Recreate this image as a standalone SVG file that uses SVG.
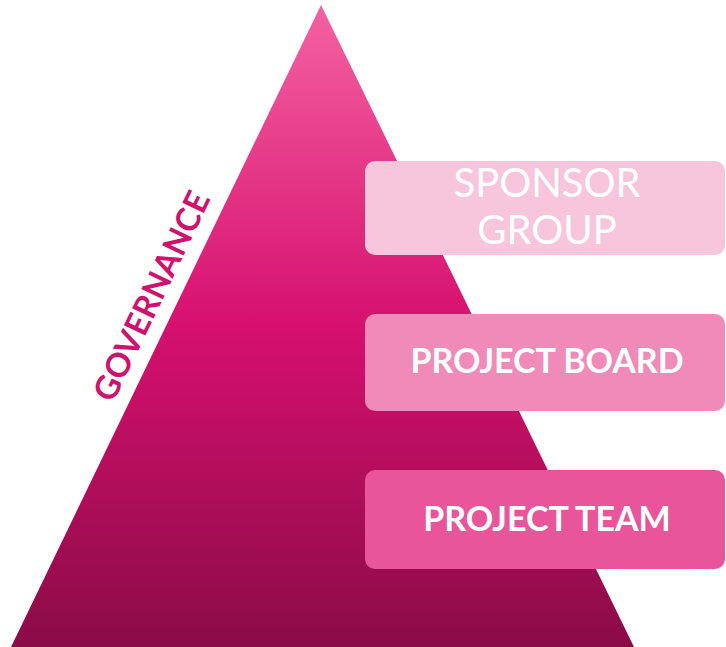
<svg xmlns="http://www.w3.org/2000/svg" width="726" height="647" viewBox="0 0 726 647">
<defs>
<linearGradient id="tri" x1="0" y1="5" x2="0" y2="647" gradientUnits="userSpaceOnUse">
<stop offset="0" stop-color="#f462a3"/>
<stop offset="0.5" stop-color="#d6106e"/>
<stop offset="1" stop-color="#8a0b47"/>
</linearGradient>
<style>
.box{stroke:none}
.lbl{font-family:Lato,"Liberation Sans",sans-serif;fill:#ffffff;text-anchor:middle}
.b{font-weight:bold;font-size:34px}
.r{font-weight:normal;font-size:40px}
.gov{font-family:Lato,"Liberation Sans",sans-serif;font-weight:bold;font-size:33px;fill:#d0126e;text-anchor:middle}
</style>
</defs>
<rect width="726" height="647" fill="#ffffff"/>
<g id="pyramid">
<polygon points="321,5 11,647 634,647" fill="url(#tri)"/>
<text class="gov" transform="translate(162,301) rotate(-64.5)">GOVERNANCE</text>
</g>
<g id="connectors"></g>
<g id="sponsor-group">
<rect class="box" x="365" y="161" width="360" height="94" rx="10" fill="#f7c6dc"/>
<text class="lbl r" x="547" y="197">SPONSOR</text>
<text class="lbl r" x="547" y="244">GROUP</text>
</g>
<g id="project-board">
<rect class="box" x="365" y="314" width="360" height="97" rx="10" fill="#f08bb9"/>
<text class="lbl b" x="547" y="373">PROJECT BOARD</text>
</g>
<g id="project-team">
<rect class="box" x="365" y="470" width="360" height="99" rx="10" fill="#e9559a"/>
<text class="lbl b" x="547" y="531">PROJECT TEAM</text>
</g>
</svg>
